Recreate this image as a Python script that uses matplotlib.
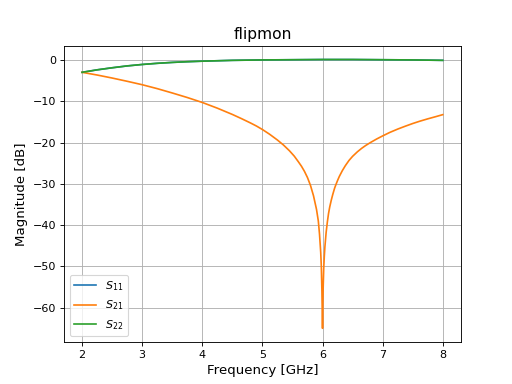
import matplotlib
matplotlib.use("Agg")
import matplotlib.pyplot as plt

freq_refl = [2.0, 2.25, 2.5, 2.75, 3.0, 3.25, 3.5, 3.75, 4.0, 4.5, 5.0, 5.5, 6.0, 6.5, 7.0, 7.5, 8.0]
s11_db = [-3.0, -2.4, -1.9, -1.45, -1.1, -0.82, -0.6, -0.43, -0.3, -0.1, 0.0, 0.05, 0.1, 0.1, 0.05, 0.0, -0.1]
s22_db = [-3.0, -2.4, -1.9, -1.45, -1.1, -0.82, -0.6, -0.43, -0.3, -0.1, 0.0, 0.05, 0.1, 0.1, 0.05, 0.0, -0.1]

freq_s21 = [2.0, 2.25, 2.5, 2.75, 3.0, 3.25, 3.5, 3.75, 4.0, 4.25, 4.5, 4.65, 4.8, 4.9, 5.0, 5.12,
            5.25, 5.35, 5.45, 5.53, 5.6, 5.65, 5.7, 5.75, 5.8, 5.85, 5.9, 5.93, 5.95, 5.97,
            5.98, 5.99, 6.0, 6.01, 6.02, 6.03, 6.04, 6.06, 6.08, 6.1, 6.12, 6.145, 6.17, 6.2, 6.22,
            6.25, 6.28, 6.33, 6.38, 6.44, 6.5, 6.58, 6.65, 6.72, 6.8, 6.9, 7.0, 7.12,
            7.25, 7.38, 7.5, 7.62, 7.75, 7.88, 8.0]
s21_db = [-3.0, -3.65, -4.38, -5.17, -6.0, -6.95, -8.0, -9.1, -10.3, -11.68, -13.2, -14.2, -15.25,
          -16.0, -16.85, -18.0, -19.4, -20.6, -22.0, -23.3, -24.7, -25.75, -27.0, -28.5, -30.4,
          -32.9, -36.2, -39.0, -42.2, -46.6, -50.0, -56.0, -65.0, -55.5, -50.5, -47.5, -45.2,
          -41.8, -39.3, -37.2, -35.6, -34.0, -32.6, -31.1, -30.3, -29.2, -28.2, -26.8, -25.6,
          -24.35, -23.35, -22.25, -21.42, -20.7, -19.98, -19.15, -18.4, -17.55, -16.75, -16.03, -15.4,
          -14.83, -14.27, -13.75, -13.25]

fig, ax = plt.subplots(figsize=(6.4, 4.8), dpi=80)
ax.plot(freq_refl, s11_db, label=r"$S_{11}$")
ax.plot(freq_s21, s21_db, label=r"$S_{21}$")
ax.plot(freq_refl, s22_db, label=r"$S_{22}$")
ax.set_title("flipmon", fontsize=14)
ax.set_xlabel("Frequency [GHz]", fontsize=12)
ax.set_ylabel("Magnitude [dB]", fontsize=12)
ax.grid(True)
ax.legend(loc="lower left")
fig.savefig("out.png", dpi=80)
